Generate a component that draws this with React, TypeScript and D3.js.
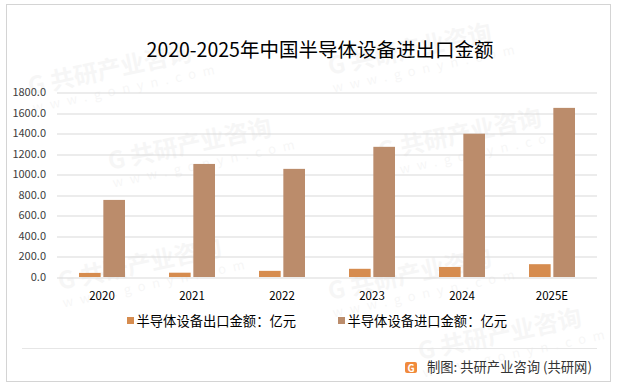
import React from "react";
import * as d3 from "d3";

const years = ["2020", "2021", "2022", "2023", "2024", "2025E"];
const exportValues = [40, 42, 60, 80, 98, 125];
const importValues = [752, 1103, 1055, 1270, 1398, 1650];
const yTicks = [0, 200, 400, 600, 800, 1000, 1200, 1400, 1600, 1800];
const seriesNames = ["半导体设备出口金额：亿元", "半导体设备进口金额：亿元"];
const seriesColors = ["#D68C4F", "#BB8C6B"];

const FONT = "'Noto Sans CJK SC', 'Noto Sans', sans-serif";

const App = () => {
  const width = 617;
  const height = 388;
  const MARGIN = { top: 92.5, right: 20, bottom: 111, left: 57 };
  const boundsWidth = width - MARGIN.left - MARGIN.right;
  const boundsHeight = height - MARGIN.top - MARGIN.bottom;

  const xScale = d3.scaleBand().domain(years).range([0, boundsWidth]);
  const inner = d3
    .scaleBand()
    .domain(["exp", "imp"])
    .range([0, 46])
    .paddingInner(0.11);
  const groupOffset = (xScale.bandwidth() - 46) / 2;

  const yScale = d3.scaleLinear().domain([0, 1800]).range([boundsHeight, 0]);

  const bars = years.map((y, i) => {
    const x0 = (xScale(y) || 0) + groupOffset;
    return (
      <g key={y}>
        <rect
          x={x0 + (inner("exp") || 0)}
          y={yScale(exportValues[i])}
          width={inner.bandwidth()}
          height={boundsHeight - yScale(exportValues[i])}
          fill={seriesColors[0]}
        />
        <rect
          x={x0 + (inner("imp") || 0)}
          y={yScale(importValues[i])}
          width={inner.bandwidth()}
          height={boundsHeight - yScale(importValues[i])}
          fill={seriesColors[1]}
        />
      </g>
    );
  });

  // faint watermarks
  const marks = [
    [30, 95], [330, 75], [110, 170], [380, 160], [60, 290], [330, 300], [420, 360],
  ];

  return (
    <svg
      width={width}
      height={height}
      style={{ position: "absolute", left: 0, top: 0, fontFamily: FONT }}
    >
      <rect x={0} y={0} width={width} height={height} fill="#fff" />
      <rect
        x={6.5}
        y={4.5}
        width={604}
        height={377}
        fill="none"
        stroke="#d4d4d4"
        strokeWidth={1}
      />
      {marks.map(([x, y], i) => (
        <g key={i} transform={`translate(${x},${y}) rotate(-12)`} opacity={0.03}>
          <text fontSize={24} fontWeight="bold" fill="#000">
            G 共研产业咨询
          </text>
          <text y={18} fontSize={13} letterSpacing={7} fill="#000">
            www.gonyn.com
          </text>
        </g>
      ))}
      <text
        x={320}
        y={57}
        textAnchor="middle"
        fontSize={19.5}
        fill="#000"
      >
        2020-2025年中国半导体设备进出口金额
      </text>

      <g transform={`translate(${MARGIN.left},${MARGIN.top})`}>
        {yTicks.map((t) => (
          <g key={t}>
            <line
              x1={0}
              x2={boundsWidth}
              y1={Math.round(yScale(t)) + 0.5}
              y2={Math.round(yScale(t)) + 0.5}
              stroke="#d9d9d9"
            />
            <text
              x={-11}
              y={yScale(t)}
              dy="0.35em"
              textAnchor="end"
              fontSize={11}
              fill="#404040"
            >
              {d3.format(".1f")(t)}
            </text>
          </g>
        ))}
        {bars}
        {years.map((y) => (
          <text
            key={y}
            x={(xScale(y) || 0) + xScale.bandwidth() / 2}
            y={boundsHeight + 23}
            textAnchor="middle"
            fontSize={11.5}
            fill="#000"
          >
            {y}
          </text>
        ))}
      </g>

      {seriesNames.map((name, i) => (
        <g key={name} transform={`translate(${[127, 338][i]},321)`}>
          <rect x={0} y={-4} width={7} height={7} fill={seriesColors[i]} />
          <text x={9.5} y={0} dy="0.35em" fontSize={13.3} fill="#000">
            {name}
          </text>
        </g>
      ))}

      <line x1={22} x2={597} y1={348.5} y2={348.5} stroke="#e6e6e6" />
      <g transform="translate(405,362)">
        <rect x={0} y={0} width={12} height={11} rx={2} fill="#F08A3C" />
        <text x={6} y={9.5} textAnchor="middle" fontSize={10} fontWeight="bold" fill="#fff">
          G
        </text>
      </g>
      <text x={427} y={372} fontSize={13.3} fill="#333">
        制图: 共研产业咨询 (共研网)
      </text>
    </svg>
  );
};

export default App;
